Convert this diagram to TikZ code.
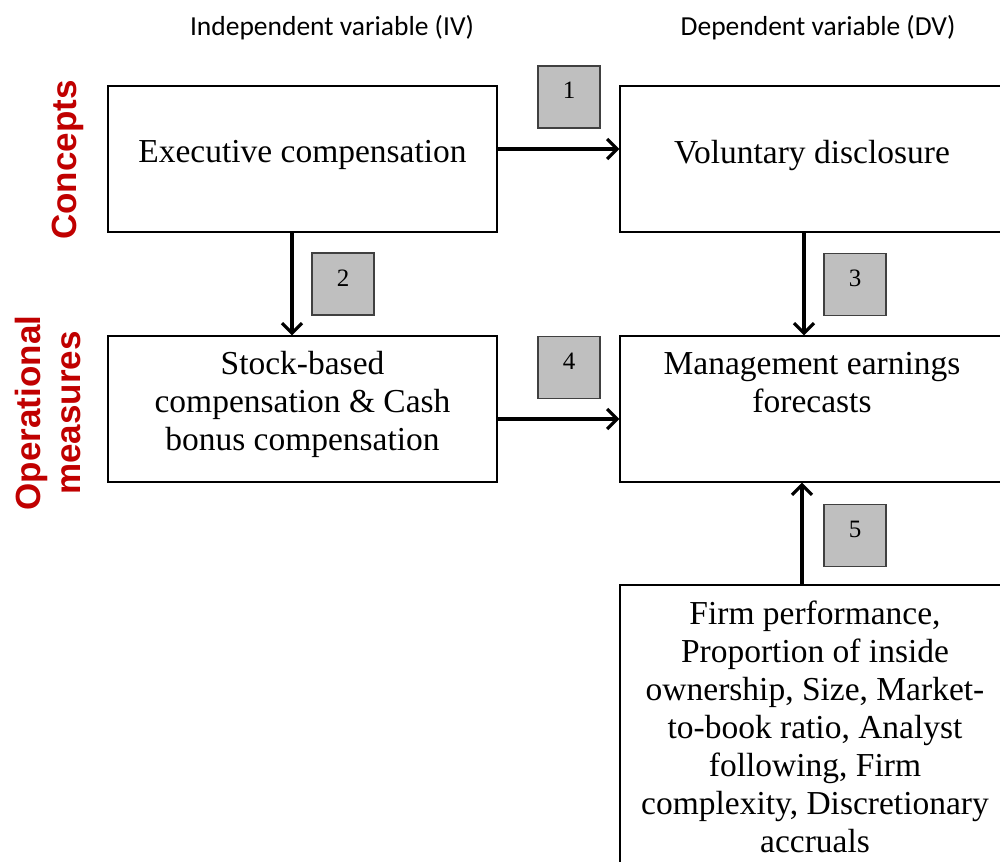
\documentclass[tikz,border=0pt]{standalone}
\usepackage{fontspec}
\setmainfont{Liberation Serif}
\newfontfamily\headfont{Carlito}
\newfontfamily\sidefont{Liberation Sans}
\usetikzlibrary{arrows.meta}
\definecolor{sidered}{HTML}{C00000}
\definecolor{numgray}{HTML}{BFBFBF}
\begin{document}
\begin{tikzpicture}[x=1pt,y=-1pt,
  box/.style={draw,line width=1.2pt,minimum width=400pt,inner sep=0pt},
  boxtext/.style={align=center,inner sep=0pt,font=\fontsize{33.5}{38}\selectfont},
  numbox/.style={draw=black!75,line width=1.2pt,fill=numgray,minimum size=62pt,inner sep=0pt,
    text height=17pt,text depth=13pt,font=\fontsize{25}{30}\selectfont},
  link/.style={line width=3.2pt,-{Straight Barb[length=10pt,width=20pt,line width=3.2pt]}},
  head/.style={font=\headfont\fontsize{27.5}{32}\selectfont},
  side/.style={rotate=90,align=center,text=sidered,font=\sidefont\bfseries\fontsize{35}{40}\selectfont}]
\useasboundingbox (0,0) rectangle (1000,861);
\node[head] (ivhead) at (332,28) {Independent variable (IV)};
\node[head] (dvhead) at (818,28) {Dependent variable (DV)};
\node[side] (concepts) at (68,160) {Concepts};
\node[side] (operational) at (48,413) {Operational\\measures};
\node[box,minimum width=389pt,minimum height=146pt] (exec) at (302.5,159) {};
\node[box,minimum height=146pt] (vd) at (820,159) {};
\node[box,minimum width=389pt,minimum height=146pt] (stock) at (302.5,409) {};
\node[box,minimum height=146pt] (mef) at (820,409) {};
\node[box,minimum height=300pt] (ctrl) at (820,735) {};
\node[boxtext] (exectxt) at (302.5,155) {Executive compensation};
\node[boxtext] (vdtxt) at (812,155) {Voluntary disclosure};
\node[boxtext] (stocktxt) at (302.5,404) {Stock-based\\compensation \& Cash\\bonus compensation};
\node[boxtext] (meftxt) at (812,383) {Management earnings\\forecasts};
\node[boxtext] (ctrltxt) at (815,727) {Firm performance,\\Proportion of inside\\ownership, Size, Market-\\to-book ratio, Analyst\\following, Firm\\complexity, Discretionary\\accruals};
\node[numbox] (n1) at (569,97) {1};
\node[numbox] (n2) at (343,284) {2};
\node[numbox] (n3) at (855,284.5) {3};
\node[numbox] (n4) at (569,367.5) {4};
\node[numbox] (n5) at (855,535.5) {5};
\draw[link] ([yshift=10pt]exec.east) -- ([yshift=10pt]vd.west);
\draw[link] ([xshift=-10.5pt]exec.south) -- ([xshift=-10.5pt]stock.north);
\draw[link] ([xshift=-16pt]vd.south) -- ([xshift=-16pt]mef.north);
\draw[link] ([yshift=-10pt]stock.east) -- ([yshift=-10pt]mef.west);
\draw[link] ([xshift=-18pt]ctrl.north) -- ([xshift=-18pt]mef.south);
\end{tikzpicture}
\end{document}
